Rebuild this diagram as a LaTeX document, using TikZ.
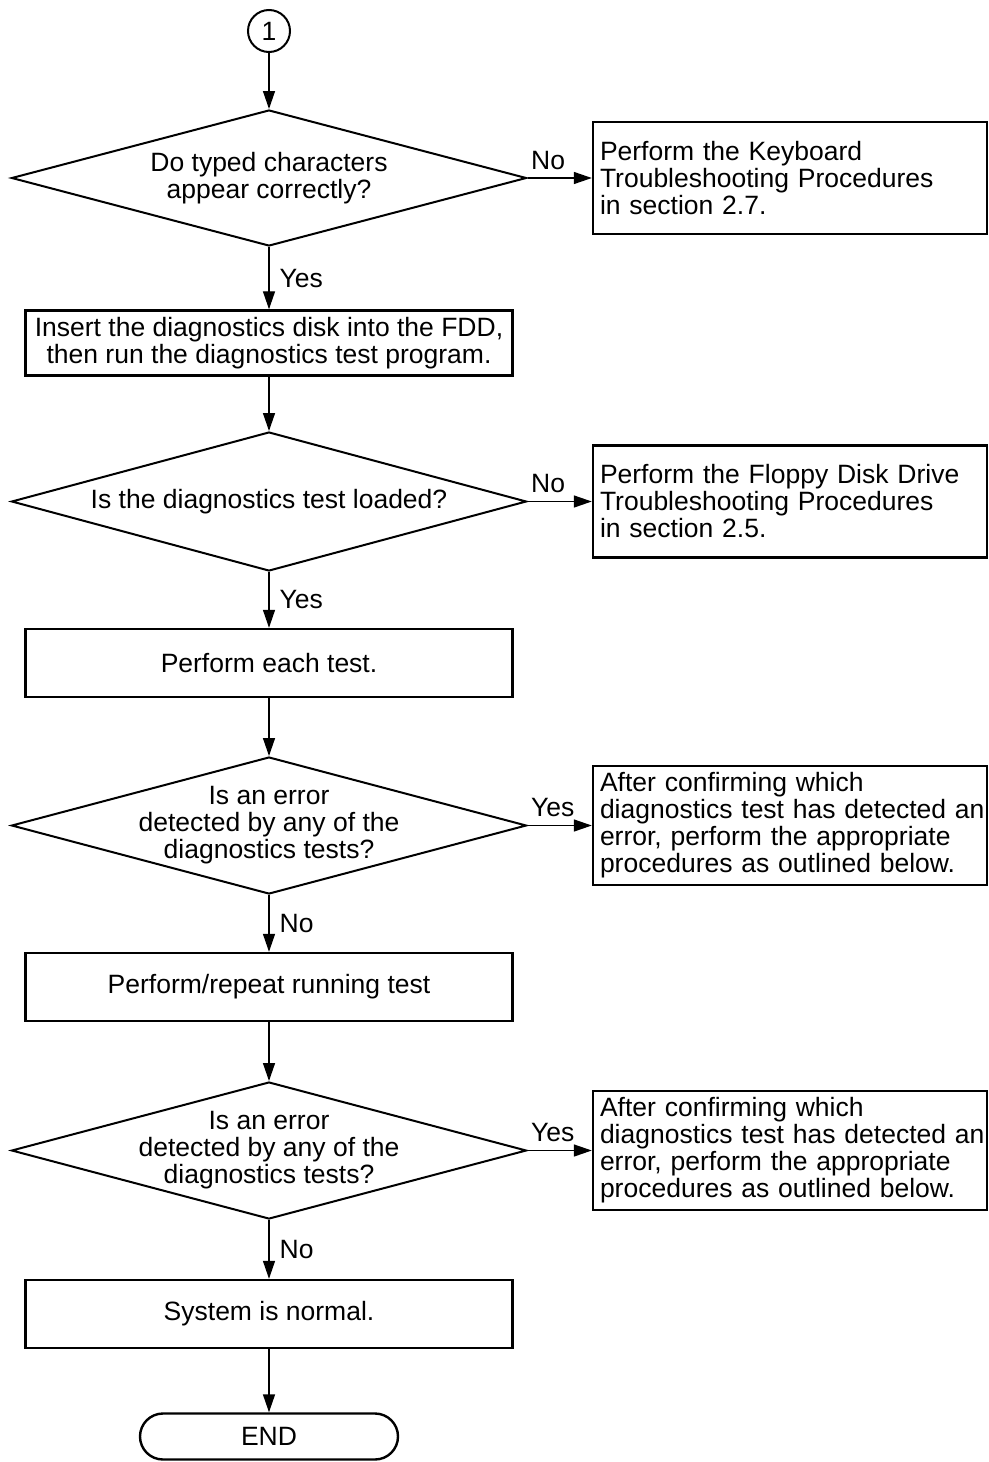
\documentclass[tikz,border=0pt]{standalone}
\usepackage{fontspec}
\setmainfont{Liberation Sans}
\usetikzlibrary{shapes.geometric,arrows.meta}
\begin{document}
\begin{tikzpicture}[x=0.5pt,y=-0.5pt,
  every node/.style={font=\fontsize{13.25pt}{13.5pt}\selectfont},
  arr/.style={draw, line width=0.7pt, -{Triangle[length=9pt,width=6pt]}},
  dec/.style={diamond, draw, line width=1pt, minimum width=257.5pt, inner sep=0pt},
  procbox/.style={rectangle, draw, line width=1.2pt, minimum width=243.5pt, align=center},
  sidebox/.style={rectangle, draw, line width=1.2pt, text width=190pt, inner xsep=3.5pt, inner ysep=0pt, align=left},
  lblr/.style={anchor=south west, inner xsep=1.5pt, inner ysep=4pt},
  lbld/.style={anchor=west, inner xsep=5pt, inner ysep=0pt},
  termbox/.style={rectangle, draw, line width=1.2pt, rounded corners=11.5pt, minimum width=129pt, minimum height=23pt},
]
\fill[white] (0,0) rectangle (989,1462);
\useasboundingbox (0,0) rectangle (989,1462);

\node[circle, draw, line width=1pt, minimum size=21pt, inner sep=0pt] (c1) at (269,31) {1};

\node[dec, minimum height=68pt, label={[align=center]center:{Do typed characters\\appear correctly?}}] (d1) at (269,178) {};
\node[sidebox, minimum height=56pt] (k) at (790,178) {Perform the Keyboard\\Troubleshooting Procedures\\in section 2.7.};

\node[procbox, minimum height=31pt] (b1) at (269,343) {Insert the diagnostics disk into the FDD,\\then run the diagnostics test program.};

\node[dec, minimum height=69.5pt, label={[align=center]center:{Is the diagnostics test loaded?}}] (d2) at (269,501.5) {};
\node[sidebox, minimum height=56pt] (f) at (790,501.5) {Perform the Floppy Disk Drive\\Troubleshooting Procedures\\in section 2.5.};

\node[procbox, minimum height=34pt] (b2) at (269,663) {Perform each test.};

\node[dec, minimum height=68.5pt, label={[align=center]center:{Is an error\\detected by any of the\\diagnostics tests?}}] (d3) at (269,825.5) {};
\node[sidebox, minimum height=59.5pt] (e1) at (790,825.5) {After confirming which\\\mbox{diagnostics test has detected an}\\error, perform the appropriate\\procedures as outlined below.};

\node[procbox, minimum height=34pt] (b3) at (269,987) {Perform/repeat running test};

\node[dec, minimum height=68.5pt, label={[align=center]center:{Is an error\\detected by any of the\\diagnostics tests?}}] (d4) at (269,1150.5) {};
\node[sidebox, minimum height=59.5pt] (e2) at (790,1150.5) {After confirming which\\\mbox{diagnostics test has detected an}\\error, perform the appropriate\\procedures as outlined below.};

\node[procbox, minimum height=34pt] (b4) at (269,1314) {System is normal.};

\node[termbox] (end) at (269,1436.5) {END};

\draw[arr] (c1) -- (d1);
\draw[arr] (d1) -- node[lblr, pos=0] {No} (k);
\draw[arr] (d1) -- node[lbld, midway] {Yes} (b1);
\draw[arr] (b1) -- (d2);
\draw[arr] (d2) -- node[lblr, pos=0] {No} (f);
\draw[arr] (d2) -- node[lbld, midway] {Yes} (b2);
\draw[arr] (b2) -- (d3);
\draw[arr] (d3) -- node[lblr, pos=0] {Yes} (e1);
\draw[arr] (d3) -- node[lbld, midway] {No} (b3);
\draw[arr] (b3) -- (d4);
\draw[arr] (d4) -- node[lblr, pos=0] {Yes} (e2);
\draw[arr] (d4) -- node[lbld, midway] {No} (b4);
\draw[arr] (b4) -- (end);
\end{tikzpicture}
\end{document}
